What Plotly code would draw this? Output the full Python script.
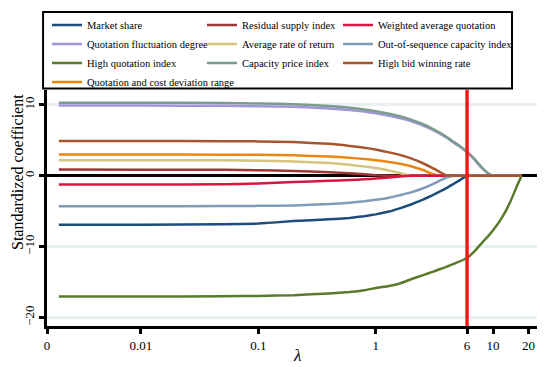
import plotly.graph_objects as go

# ---------------- data ----------------
LAMBDA = [0.002, 0.01, 0.05, 0.1, 0.2, 0.4, 0.6, 0.8, 1.0, 1.3, 1.6, 2.0, 2.5, 3.0, 3.5,
          4.0, 4.5, 5.0, 6.0, 7.0, 8.0, 9.0, 10.0, 12.0, 14.0, 16.0, 17.5]

market_share = [-6.9, -6.9, -6.85, -6.75, -6.4, -6.15, -5.95, -5.7, -5.45, -5.05, -4.6, -4.05, -3.4, -2.8, -2.25,
                -1.75, -1.25, -0.8, 0, 0, 0, 0, 0, 0, 0, 0, 0]
quotation_fluctuation = [9.9, 9.9, 9.87, 9.82, 9.72, 9.5, 9.28, 9.05, 8.8, 8.47, 8.15, 7.7, 7.1, 6.55, 5.95,
                         5.4, 4.8, 4.3, 3.3, 2.2, 1.1, 0.35, 0, 0, 0, 0, 0]
high_quotation = [-17.05, -17.05, -17.0, -16.95, -16.85, -16.6, -16.4, -16.15, -15.85, -15.55, -15.2, -14.6, -14.05, -13.6, -13.2,
                  -12.85, -12.5, -12.2, -11.6, -10.6, -9.5, -8.6, -7.7, -5.8, -3.7, -1.4, 0]
quotation_cost_dev = [3.0, 3.0, 2.98, 2.95, 2.88, 2.7, 2.55, 2.35, 2.2, 1.95, 1.7, 1.35, 0.85, 0.3, 0,
                      0, 0, 0, 0, 0, 0, 0, 0, 0, 0, 0, 0]
residual_supply = [0.87, 0.86, 0.83, 0.78, 0.68, 0.5, 0.35, 0.2, 0.07, 0, 0, 0, 0, 0, 0,
                   0, 0, 0, 0, 0, 0, 0, 0, 0, 0, 0, 0]
avg_return = [2.2, 2.2, 2.18, 2.13, 2.0, 1.8, 1.55, 1.3, 1.1, 0.75, 0.4, 0, 0, 0, 0,
              0, 0, 0, 0, 0, 0, 0, 0, 0, 0, 0, 0]
capacity_price = [10.3, 10.3, 10.27, 10.2, 10.1, 9.85, 9.6, 9.35, 9.1, 8.75, 8.4, 7.9, 7.3, 6.7, 6.1,
                  5.5, 4.9, 4.4, 3.4, 2.3, 1.2, 0.4, 0, 0, 0, 0, 0]
weighted_avg_quot = [-1.25, -1.24, -1.2, -1.1, -0.88, -0.72, -0.6, -0.5, -0.4, -0.25, -0.1, 0, 0, 0, 0,
                     0, 0, 0, 0, 0, 0, 0, 0, 0, 0, 0, 0]
out_of_sequence = [-4.3, -4.3, -4.28, -4.25, -4.18, -4.0, -3.8, -3.6, -3.4, -3.1, -2.75, -2.35, -1.8, -1.25, -0.7,
                   -0.25, -0.02, 0, 0, 0, 0, 0, 0, 0, 0, 0, 0]
high_bid_win = [4.9, 4.9, 4.88, 4.85, 4.75, 4.5, 4.2, 3.95, 3.7, 3.3, 2.95, 2.45, 1.8, 1.15, 0.55,
                0.05, 0, 0, 0, 0, 0, 0, 0, 0, 0, 0, 0]

SELECTED_LAMBDA = 6

X_TICK_VALS = [0.001585, 0.01, 0.1, 1, 6, 10, 20]
X_TICK_TEXT = ["0", "0.01", "0.1", "1", "6", "10", "20"]
Y_TICK_VALS = [-20, -10, 0, 10]

# (name, values, colour, legend)
SERIES = [
    ("Market share", market_share, "#1D4D7B", "legend"),
    ("Quotation fluctuation degree", quotation_fluctuation, "#A196DE", "legend"),
    ("High quotation index", high_quotation, "#587B2C", "legend"),
    ("Quotation and cost deviation range", quotation_cost_dev, "#EC8613", "legend"),
    ("Residual supply index", residual_supply, "#9C3535", "legend2"),
    ("Average rate of return", avg_return, "#D5C47E", "legend2"),
    ("Capacity price index", capacity_price, "#7D9B8C", "legend2"),
    ("Weighted average quotation", weighted_avg_quot, "#D8153F", "legend3"),
    ("Out-of-sequence capacity index", out_of_sequence, "#7F9BBA", "legend3"),
    ("High bid winning rate", high_bid_win, "#A8552E", "legend3"),
]

FONT = "Liberation Serif"
# page body has an 8px margin, so the figure is 8px smaller than the window
W, H = 542, 359
ML, MR, MT, MB = 39, 13, 82, 41
PW, PH = W - ML - MR, H - MT - MB

fig = go.Figure()
for name, vals, col, lg in SERIES:
    fig.add_trace(go.Scatter(
        x=LAMBDA, y=vals, name=name, mode="lines",
        line=dict(color=col, width=2.5, shape="spline", smoothing=0.35),
        legend=lg,
    ))

YMIN, YMAX = -21.2, 12.1
fig.add_trace(go.Scatter(
    x=[SELECTED_LAMBDA, SELECTED_LAMBDA], y=[YMIN, YMAX], mode="lines",
    line=dict(color="#FF1616", width=3.5), showlegend=False, hoverinfo="skip",
))

legend_common = dict(
    orientation="v", xanchor="left", yanchor="top",
    xref="container", yref="container",
    font=dict(family=FONT, size=10.5, color="black"),
    bgcolor="rgba(0,0,0,0)", borderwidth=0, tracegroupgap=0,
    itemwidth=30,
)
LEG_TOP = (H - 2.5) / H

fig.update_layout(
    width=W, height=H,
    margin=dict(l=ML, r=MR, t=MT, b=MB, autoexpand=False),
    paper_bgcolor="white", plot_bgcolor="white",
    font=dict(family=FONT, color="black"),
    showlegend=True,
    legend=dict(x=39 / W, y=LEG_TOP, **legend_common),
    legend2=dict(x=194 / W, y=LEG_TOP, **legend_common),
    legend3=dict(x=330 / W, y=LEG_TOP, **legend_common),
    shapes=[dict(type="rect", xref="paper", yref="paper",
                 x0=-0.008, x1=0.949, y0=1.006, y1=1.33,
                 line=dict(color="black", width=2), fillcolor="rgba(0,0,0,0)")],
    annotations=[
        dict(text="Standardized coefficient", xref="paper", yref="paper",
             x=(9 - ML) / PW, y=(MT + PH - 164) / PH, textangle=-90,
             xanchor="center", yanchor="middle", showarrow=False,
             font=dict(family=FONT, size=16, color="black")),
        dict(text="<i>λ</i>", xref="paper", yref="paper",
             x=(289 - ML) / PW, y=(MT + PH - 347) / PH,
             xanchor="center", yanchor="middle", showarrow=False,
             font=dict(family=FONT, size=17, color="black")),
    ],
    xaxis=dict(
        type="log", range=[-2.8, 1.374], automargin=False,
        tickmode="array", tickvals=X_TICK_VALS, ticktext=X_TICK_TEXT,
        showgrid=False, zeroline=False,
        showline=True, linecolor="black", linewidth=3,
        ticks="outside", ticklen=5, tickwidth=3, tickcolor="black",
        tickfont=dict(family=FONT, size=13, color="black"),
    ),
    yaxis=dict(
        range=[YMIN, YMAX], automargin=False,
        tickmode="array", tickvals=Y_TICK_VALS,
        showgrid=True, gridcolor="#E9F0F3", gridwidth=3,
        zeroline=True, zerolinecolor="black", zerolinewidth=2.8,
        showline=True, linecolor="black", linewidth=3,
        ticks="outside", ticklen=5, tickwidth=3, tickcolor="black",
        tickangle=-90,
        tickfont=dict(family=FONT, size=13, color="black"),
    ),
)

fig.write_html("out.html")
